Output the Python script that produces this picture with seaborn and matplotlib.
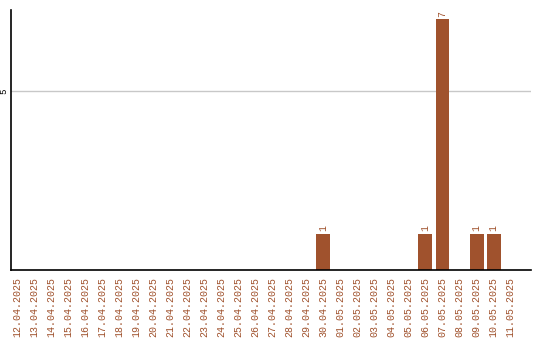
import matplotlib
matplotlib.use("Agg")
import matplotlib.pyplot as plt
import seaborn as sns
import pandas as pd

dates = ["12.04.2025", "13.04.2025", "14.04.2025", "15.04.2025", "16.04.2025",
         "17.04.2025", "18.04.2025", "19.04.2025", "20.04.2025", "21.04.2025",
         "22.04.2025", "23.04.2025", "24.04.2025", "25.04.2025", "26.04.2025",
         "27.04.2025", "28.04.2025", "29.04.2025", "30.04.2025", "01.05.2025",
         "02.05.2025", "03.05.2025", "04.05.2025", "05.05.2025", "06.05.2025",
         "07.05.2025", "08.05.2025", "09.05.2025", "10.05.2025", "11.05.2025"]
counts = [0, 0, 0, 0, 0, 0, 0, 0, 0, 0,
          0, 0, 0, 0, 0, 0, 0, 0, 1, 0,
          0, 0, 0, 0, 1, 7, 0, 1, 1, 0]
y_ticks = [5]

BAR = "#a0522d"

sns.set_style("white")
plt.rcParams["font.family"] = ["Liberation Mono", "DejaVu Sans Mono"]

df = pd.DataFrame({"date": dates, "count": counts})

fig = plt.figure(figsize=(5.4, 3.4), dpi=100)
ax = fig.add_axes([11 / 540, 1 - 270 / 340, 520 / 540, 260 / 340])

sns.barplot(data=df, x="date", y="count", color=BAR, saturation=1,
            width=0.82, linewidth=0, ax=ax, zorder=3)

# value labels above the non-empty bars
for p, v in zip(ax.patches, counts):
    if v > 0:
        ax.annotate(str(v), (p.get_x() + p.get_width() / 2, v),
                    xytext=(0, 2), textcoords="offset points",
                    ha="center", va="bottom", rotation=90,
                    fontsize=7, color=BAR)

ax.set_xlim(-0.35, 30.2)
ax.set_ylim(0, 7.26)
ax.set_yticks(y_ticks)
ax.set_yticklabels([str(t) for t in y_ticks], rotation=90, va="center",
                   fontsize=6.5, color="black")
ax.yaxis.grid(True, color="#c8c8c8", linewidth=1, zorder=0)
ax.tick_params(axis="both", length=0, pad=2)
ax.tick_params(axis="x", labelrotation=90, labelsize=7.2, labelcolor=BAR, pad=5)
ax.set_xlabel("")
ax.set_ylabel("")

for side in ("top", "right"):
    ax.spines[side].set_visible(False)
for side in ("left", "bottom"):
    ax.spines[side].set_color("black")
    ax.spines[side].set_linewidth(1.2)
    ax.spines[side].set_zorder(4)

fig.savefig("out.png", dpi=100)
